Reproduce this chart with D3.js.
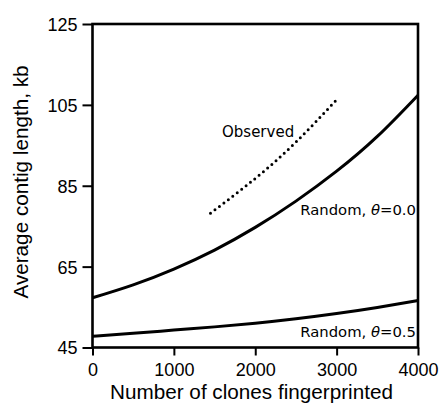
<!DOCTYPE html>
<html>
<head>
<meta charset="utf-8">
<script src="https://cdn.jsdelivr.net/npm/d3@7"></script>
<style>
  html, body { margin: 0; padding: 0; background: #fff; }
  svg { display: block; }
  .tick text { font-family: "Liberation Sans", Arial, sans-serif; font-size: 18px; fill: #000; }
  .tick line { stroke: #000; stroke-width: 2; }
  .note { font-family: "DejaVu Sans", sans-serif; fill: #000; }
</style>
</head>
<body>
<div id="chart"></div>
<script>
// chart data
var clones      = [0, 500, 1000, 1500, 2000, 2500, 3000, 3500, 4000];
var random00    = [57.3, 60.5, 64.4, 69.1, 74.7, 81.2, 88.6, 97.2, 107.4];
var random05    = [47.8, 48.5, 49.3, 50.1, 51.0, 52.1, 53.4, 54.9, 56.6];
var obsClones   = [1450, 2000, 2500, 3000];
var observed    = [78.2, 86.8, 95.8, 106.3];
var xTicks      = [0, 1000, 2000, 3000, 4000];
var yTicks      = [45, 65, 85, 105, 125];

var width = 446, height = 408;
// plot box (careful: "top" is a reserved window property)
var plotLeft = 92.5, plotRight = 418, plotTop = 24, plotBottom = 347.5;

var svg = d3.select('#chart').append('svg')
    .attr('width', width)
    .attr('height', height);

var x = d3.scaleLinear().domain([0, 4000]).range([plotLeft, plotRight]);
var y = d3.scaleLinear().domain([45, 125]).range([plotBottom, plotTop]);

// axes
var gx = svg.append('g')
    .attr('transform', 'translate(0,' + plotBottom + ')')
    .call(d3.axisBottom(x).tickValues(xTicks).tickSize(8).tickPadding(4).tickFormat(d3.format('d')));
gx.select('.domain').remove();
gx.selectAll('text').attr('dy', null).attr('y', 28.5);

var gy = svg.append('g')
    .attr('transform', 'translate(' + plotLeft + ',0)')
    .call(d3.axisLeft(y).tickValues(yTicks).tickSize(10).tickPadding(5));
gy.select('.domain').remove();
gy.selectAll('text').attr('dy', '0.36em');

// frame
svg.append('rect')
    .attr('x', plotLeft).attr('y', plotTop)
    .attr('width', plotRight - plotLeft).attr('height', plotBottom - plotTop)
    .style('fill', 'none').style('stroke', '#000').attr('stroke-width', 2.6);

// lines
var line = d3.line()
    .x(function (d) { return x(d[0]); })
    .y(function (d) { return y(d[1]); })
    .curve(d3.curveNatural);

svg.append('path')
    .attr('d', line(d3.zip(clones, random00)))
    .style('fill', 'none').style('stroke', '#000').attr('stroke-width', 3);

svg.append('path')
    .attr('d', line(d3.zip(clones, random05)))
    .style('fill', 'none').style('stroke', '#000').attr('stroke-width', 3);

svg.append('path')
    .attr('d', line(d3.zip(obsClones, observed)))
    .style('fill', 'none').style('stroke', '#000')
    .attr('stroke-width', 3)
    .attr('stroke-linecap', 'round')
    .attr('stroke-dasharray', '0 5.6');

// annotations
svg.append('text').attr('class', 'note')
    .attr('x', 222).attr('y', 137)
    .style('font-size', '15px')
    .text('Observed');

function randomLabel(val, yPos) {
    var t = svg.append('text').attr('class', 'note')
        .attr('x', 416).attr('y', yPos)
        .attr('text-anchor', 'end')
        .style('font-size', '14.8px');
    t.append('tspan').text('Random, ');
    t.append('tspan').style('font-style', 'italic').text('θ');
    t.append('tspan').text('=' + val);
}
randomLabel('0.0', 215);
randomLabel('0.5', 337);

// axis titles
svg.append('text')
    .attr('x', 251.5).attr('y', 399)
    .attr('text-anchor', 'middle')
    .style('font-family', '"Liberation Sans", Arial, sans-serif')
    .style('font-size', '20.7px')
    .text('Number of clones fingerprinted');

svg.append('text')
    .attr('transform', 'translate(28,182) rotate(-90)')
    .attr('text-anchor', 'middle')
    .style('font-family', '"Liberation Sans", Arial, sans-serif')
    .style('font-size', '20.7px')
    .text('Average contig length, kb');
</script>
</body>
</html>
